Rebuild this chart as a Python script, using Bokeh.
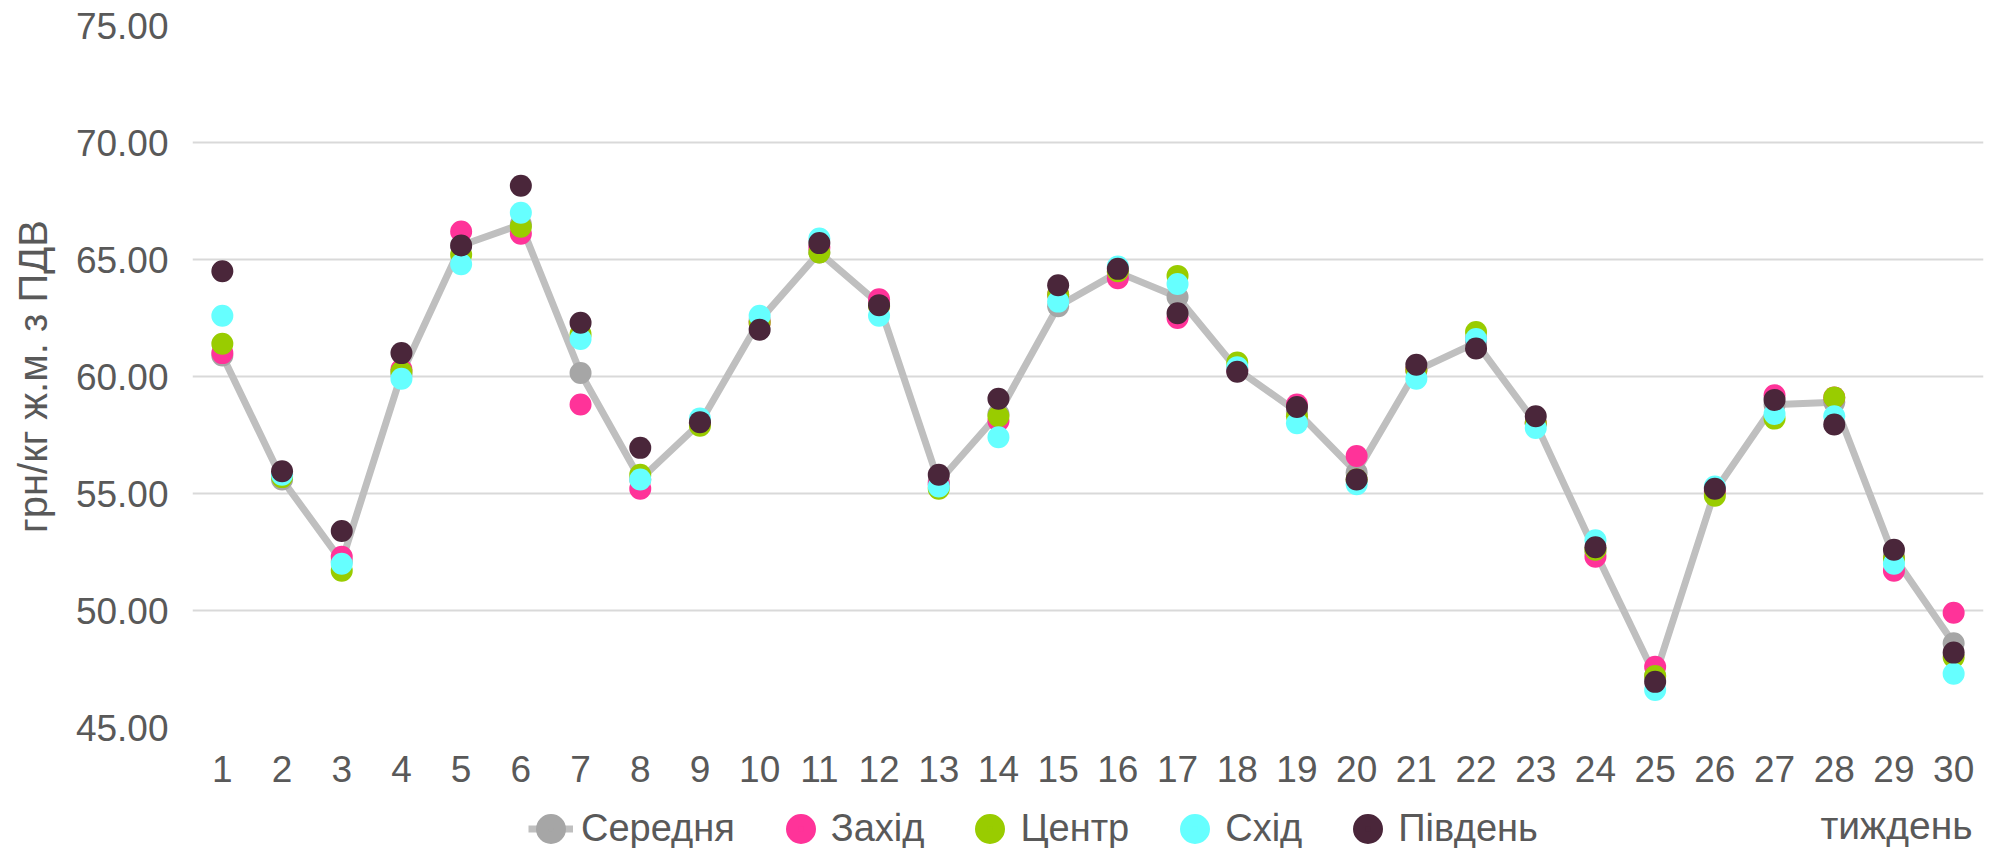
from bokeh.plotting import figure
from bokeh.layouts import column
from bokeh.models import (ColumnDataSource, FixedTicker, PrintfTickFormatter,
                          Legend, LegendItem, Label)
from bokeh.embed import file_html
from bokeh.resources import INLINE

weeks = list(range(1, 31))
week_labels = [str(w) for w in weeks]

avg = [60.9, 55.6, 52.1, 60.1, 65.6, 66.5, 60.15, 55.6, 58.0, 62.4,
       65.3, 63.1, 55.5, 58.4, 63.0, 64.45, 63.4, 60.3, 58.5, 55.9,
       60.25, 61.45, 58.0, 52.5, 47.2, 55.1, 58.8, 58.9, 52.3, 48.6]
west = [61.0, 55.8, 52.3, 60.3, 66.2, 66.1, 58.8, 55.2, 58.0, 62.3,
        65.5, 63.3, 55.4, 58.1, 63.5, 64.2, 62.5, 60.3, 58.8, 56.6,
        60.3, 61.6, 58.0, 52.3, 47.6, 55.1, 59.2, 59.1, 51.7, 49.9]
center = [61.4, 55.7, 51.7, 60.2, 65.2, 66.4, 61.8, 55.8, 57.9, 62.3,
          65.3, 63.0, 55.2, 58.3, 63.5, 64.5, 64.3, 60.6, 58.3, 55.6,
          60.3, 61.9, 58.0, 52.6, 47.2, 54.9, 58.2, 59.1, 52.2, 48.0]
east = [62.6, 55.8, 52.0, 59.9, 64.8, 67.0, 61.6, 55.6, 58.2, 62.6,
        65.9, 62.6, 55.3, 57.4, 63.2, 64.7, 63.95, 60.4, 58.0, 55.4,
        59.9, 61.6, 57.8, 53.0, 46.6, 55.3, 58.4, 58.3, 52.0, 47.3]
south = [64.5, 55.95, 53.4, 61.0, 65.6, 68.15, 62.3, 56.95, 58.05, 62.0,
         65.7, 63.05, 55.8, 59.05, 63.9, 64.6, 62.7, 60.2, 58.7, 55.6,
         60.5, 61.2, 58.3, 52.7, 46.95, 55.2, 59.0, 57.95, 52.6, 48.2]

y_ticks = [45, 50, 55, 60, 65, 70, 75]

series_names = ["Середня", "Захід", "Центр", "Схід", "Південь"]
series_colors = ["#A6A6A6", "#FF3399", "#99CC00", "#66FFFF", "#4A263A"]
LINE_COLOR = "#BFBFBF"

FONT = "Liberation Sans"
TXT = "#595959"
FS = "37px"

src = ColumnDataSource(dict(week=weeks, avg=avg, west=west, center=center,
                            east=east, south=south))

# ---------------- main chart ----------------
p = figure(width=2000, height=799, output_backend="svg", toolbar_location=None,
           x_range=(0.5, 30.5), y_range=(45, 75),
           min_border_left=192, min_border_right=17,
           min_border_top=25, min_border_bottom=72)
p.outline_line_color = None
p.background_fill_color = "white"
p.border_fill_color = "white"

p.xgrid.grid_line_color = None
p.ygrid.grid_line_color = "#D9D9D9"
p.ygrid.grid_line_width = 2

p.yaxis.ticker = FixedTicker(ticks=y_ticks)
p.yaxis.formatter = PrintfTickFormatter(format="%.2f")
p.xaxis.ticker = FixedTicker(ticks=weeks)
p.xaxis.major_label_overrides = {w: l for w, l in zip(weeks, week_labels)}

for ax in (p.xaxis[0], p.yaxis[0]):
    ax.axis_line_color = None
    ax.major_tick_line_color = None
    ax.minor_tick_line_color = None
    ax.major_tick_out = 0
    ax.major_tick_in = 0
    ax.major_label_text_font = FONT
    ax.major_label_text_font_size = FS
    ax.major_label_text_color = TXT

p.xaxis.major_label_standoff = 28
p.yaxis.major_label_standoff = 24
p.yaxis.axis_label = "грн/кг ж.м. з ПДВ"
p.yaxis.axis_label_text_font = FONT
p.yaxis.axis_label_text_font_size = "40px"
p.yaxis.axis_label_text_font_style = "normal"
p.yaxis.axis_label_text_color = TXT
p.yaxis.axis_label_standoff = 18

p.line("week", "avg", source=src, line_color=LINE_COLOR, line_width=7)
for col, color in zip(["avg", "west", "center", "east", "south"], series_colors):
    p.scatter("week", col, source=src, size=22, fill_color=color, line_color=None)

# ---------------- legend strip ----------------
# frame aligned with the main chart; data units = canvas pixels
lg = figure(width=2000, height=49, output_backend="svg", toolbar_location=None,
            x_range=(192, 1983), y_range=(0, 49), x_axis_type=None, y_axis_type=None,
            min_border_left=192, min_border_right=17, min_border_top=0,
            min_border_bottom=0)
lg.outline_line_color = None
lg.grid.grid_line_color = None
lg.background_fill_color = "white"
lg.border_fill_color = "white"

dummy = ColumnDataSource(dict(x=[-10000], y=[-10000]))
items = []
for i, (name, color) in enumerate(zip(series_names, series_colors)):
    rs = []
    if i == 0:
        rs.append(lg.line("x", "y", source=dummy, line_color=LINE_COLOR, line_width=7))
    rs.append(lg.scatter("x", "y", source=dummy, size=18, fill_color=color,
                         line_color=color, line_width=12))
    items.append(LegendItem(label=name, renderers=rs))

legend = Legend(items=items, orientation="horizontal", location=(336, -3),
                glyph_width=45, glyph_height=45, label_standoff=8, spacing=43,
                padding=0, margin=0, border_line_alpha=0, background_fill_alpha=0,
                label_text_font=FONT, label_text_font_size="38px", label_text_color=TXT,
                label_text_baseline="middle")
lg.add_layout(legend)

lg.add_layout(Label(x=1972, y=23, text="тиждень", text_font=FONT,
                    text_font_size="39px", text_color=TXT, text_align="right",
                    text_baseline="middle"))

layout = column(p, lg, spacing=0)
open("out.html", "w").write(file_html(layout, INLINE))
